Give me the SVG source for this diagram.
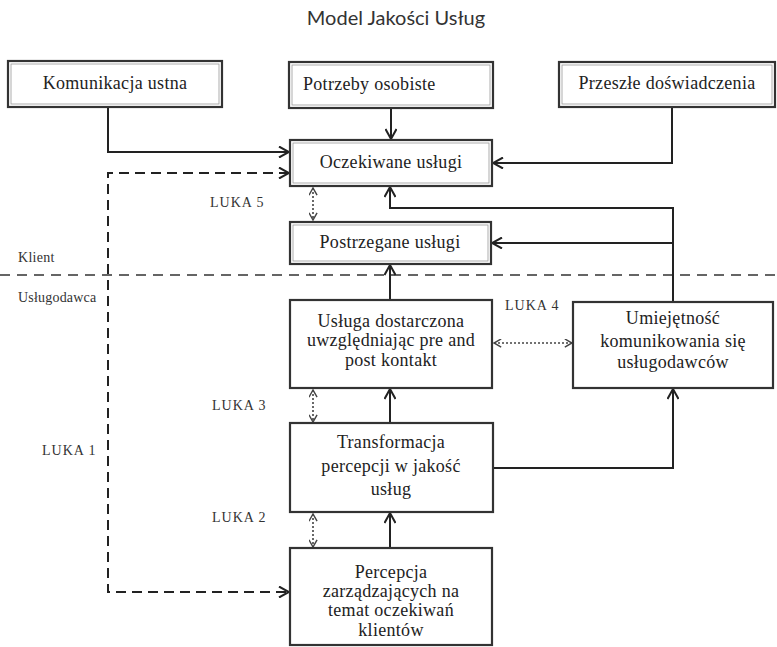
<svg xmlns="http://www.w3.org/2000/svg" width="777" height="647" viewBox="0 0 777 647">
<style>
.box{fill:#fff;stroke:#333;stroke-width:2.2}
.inner{fill:none;stroke:#999;stroke-width:0.8}
.t{font-family:"Liberation Serif","Times New Roman",serif;font-size:18px;fill:#222;letter-spacing:0.3px}
.c{text-anchor:middle}
.lbl{font-family:"Liberation Serif","Times New Roman",serif;font-size:14px;fill:#333;letter-spacing:1px}
.title{font-family:Lato,"Open Sans",sans-serif;font-size:20px;fill:#333;text-anchor:middle}
.solid{fill:none;stroke:#222;stroke-width:2}
.dash{fill:none;stroke:#222;stroke-width:2;stroke-dasharray:10 6}
.sep{fill:none;stroke:#333;stroke-width:1.6;stroke-dasharray:10 7}
.dot{fill:none;stroke:#444;stroke-width:1.6;stroke-dasharray:2 2}
</style>
<defs>
<marker id="arr" viewBox="0 0 12 12" refX="11" refY="6" markerWidth="12" markerHeight="12" markerUnits="userSpaceOnUse" orient="auto-start-reverse">
<path d="M1,0.5 L11,6 L1,11.5" fill="none" stroke="#222" stroke-width="2"/>
</marker>
<marker id="darr" viewBox="0 0 10 10" refX="9" refY="5" markerWidth="9" markerHeight="9" markerUnits="userSpaceOnUse" orient="auto-start-reverse">
<path d="M1,0.5 L9,5 L1,9.5" fill="none" stroke="#444" stroke-width="1.6"/>
</marker>
</defs>
<rect width="777" height="647" fill="#fff"/>
<text class="title" x="396" y="25">Model Jakości Usług</text>

<g id="connectors">
<path class="sep" d="M0,275 H777"/>
<path class="solid" d="M108,107 V152 H289" marker-end="url(#arr)"/>
<path class="solid" d="M391,108 V139" marker-end="url(#arr)"/>
<path class="solid" d="M672,107 V163 H493" marker-end="url(#arr)"/>
<path class="dash" d="M289,173 H108 V592 H289" marker-start="url(#arr)" marker-end="url(#arr)"/>
<path class="solid" d="M673,302 V208 H390 V187" marker-end="url(#arr)"/>
<path class="solid" d="M673,243 H492" marker-end="url(#arr)"/>
<path class="solid" d="M390,300 V265" marker-end="url(#arr)"/>
<path class="solid" d="M390,423 V389" marker-end="url(#arr)"/>
<path class="solid" d="M390,548 V513" marker-end="url(#arr)"/>
<path class="solid" d="M493,468 H673 V389" marker-end="url(#arr)"/>
<path class="dot" d="M313,188 V220" marker-start="url(#darr)" marker-end="url(#darr)"/>
<path class="dot" d="M313,390 V422" marker-start="url(#darr)" marker-end="url(#darr)"/>
<path class="dot" d="M313,514 V547" marker-start="url(#darr)" marker-end="url(#darr)"/>
<path class="dot" d="M494,343 H572" marker-start="url(#darr)" marker-end="url(#darr)"/>
</g>

<g id="labels">
<text class="lbl" x="18" y="262" style="letter-spacing:0.3px">Klient</text>
<text class="lbl" x="18" y="302" style="letter-spacing:0.2px">Usługodawca</text>
<text class="lbl" x="210" y="207">LUKA 5</text>
<text class="lbl" x="505" y="310">LUKA 4</text>
<text class="lbl" x="212" y="410">LUKA 3</text>
<text class="lbl" x="42" y="455">LUKA 1</text>
<text class="lbl" x="212" y="522">LUKA 2</text>
</g>

<g id="komunikacja">
<rect class="box" x="8" y="61" width="214" height="46"/>
<rect class="inner" x="11" y="64" width="208" height="40"/>
<text class="t c" x="115" y="89">Komunikacja ustna</text>
</g>
<g id="potrzeby">
<rect class="box" x="289" y="62" width="204" height="46"/>
<rect class="inner" x="292" y="65" width="198" height="40"/>
<text class="t" x="303" y="90">Potrzeby osobiste</text>
</g>
<g id="przeszle">
<rect class="box" x="559" y="62" width="216" height="45"/>
<rect class="inner" x="562" y="65" width="210" height="39"/>
<text class="t c" x="667" y="89">Przeszłe doświadczenia</text>
</g>
<g id="oczekiwane">
<rect class="box" x="290" y="140" width="202" height="46"/>
<rect class="inner" x="293" y="143" width="196" height="40"/>
<text class="t c" x="391" y="168">Oczekiwane usługi</text>
</g>
<g id="postrzegane">
<rect class="box" x="290" y="222" width="201" height="42"/>
<rect class="inner" x="293" y="225" width="195" height="36"/>
<text class="t c" x="390" y="248">Postrzegane usługi</text>
</g>
<g id="usluga">
<rect class="box" x="290" y="300" width="202" height="88"/>
<text class="t c" x="391" y="327">Usługa dostarczona</text>
<text class="t c" x="391" y="346">uwzględniając pre and</text>
<text class="t c" x="391" y="366">post kontakt</text>
</g>
<g id="umiejetnosc">
<rect class="box" x="573" y="302" width="200" height="86"/>
<text class="t c" x="673" y="324">Umiejętność</text>
<text class="t c" x="673" y="347">komunikowania się</text>
<text class="t c" x="673" y="368">usługodawców</text>
</g>
<g id="transformacja">
<rect class="box" x="290" y="423" width="203" height="89"/>
<text class="t c" x="391" y="448">Transformacja</text>
<text class="t c" x="391" y="472">percepcji w jakość</text>
<text class="t c" x="391" y="495">usług</text>
</g>
<g id="percepcja">
<rect class="box" x="290" y="548" width="202" height="97"/>
<text class="t c" x="391" y="578">Percepcja</text>
<text class="t c" x="391" y="597">zarządzających na</text>
<text class="t c" x="391" y="616">temat oczekiwań</text>
<text class="t c" x="391" y="636">klientów</text>
</g>
</svg>
